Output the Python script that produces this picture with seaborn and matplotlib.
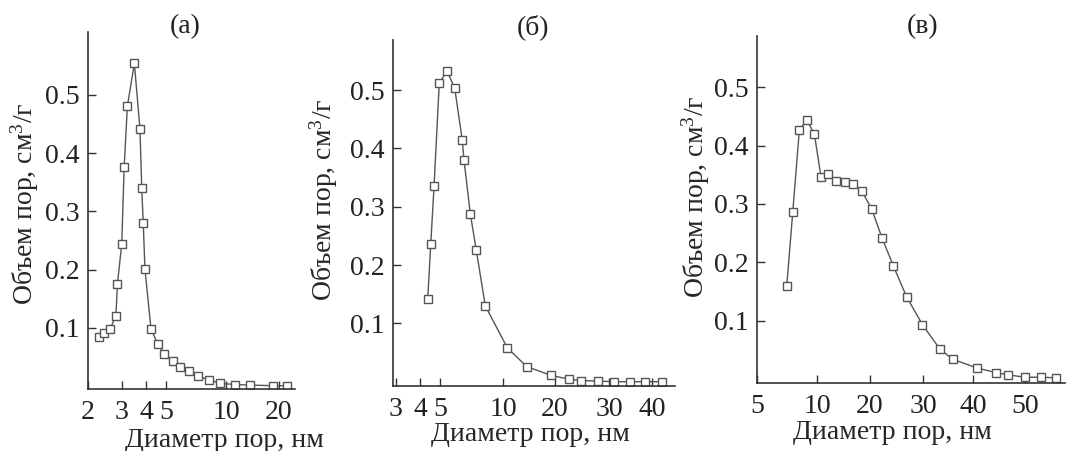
import numpy as np
import matplotlib
matplotlib.use("Agg")
import matplotlib.pyplot as plt
import seaborn as sns

# pore size distributions (diameter in nm, volume in cm3/g)
d_a = [2.28, 2.43, 2.60, 2.79, 2.84, 2.99, 3.08, 3.20, 3.48, 3.72, 3.80, 3.87, 3.95,
       4.23, 4.56, 4.91, 5.40, 5.90, 6.50, 7.26, 8.22, 9.36, 11.25, 13.7, 18.4, 22.1]
v_a = [0.084, 0.092, 0.098, 0.121, 0.175, 0.244, 0.377, 0.481, 0.554, 0.442, 0.341, 0.280, 0.201,
       0.098, 0.073, 0.055, 0.044, 0.033, 0.026, 0.017, 0.011, 0.005, 0.003, 0.002, 0.001, 0.001]

d_b = [4.36, 4.51, 4.68, 4.96, 5.40, 5.88, 6.39, 6.51, 6.98, 7.45, 8.23, 10.6, 13.7,
       18.9, 22.3, 24.3, 27.7, 31.0, 34.5, 38.2, 42.7]
v_b = [0.142, 0.236, 0.336, 0.512, 0.533, 0.503, 0.414, 0.380, 0.288, 0.226, 0.130, 0.058, 0.026,
       0.011, 0.004, 0.002, 0.001, 0.0, 0.0, 0.0, 0.0]

d_c = [7.48, 7.98, 8.53, 9.14, 9.78, 10.75, 12.0, 13.6, 15.2, 16.7, 18.4, 20.3, 22.3,
       24.4, 26.9, 29.9, 33.4, 35.9, 40.7, 44.4, 46.8, 50.0, 53.1, 55.9]
v_c = [0.160, 0.286, 0.427, 0.444, 0.420, 0.347, 0.351, 0.339, 0.337, 0.334, 0.323, 0.292, 0.241,
       0.194, 0.141, 0.093, 0.051, 0.034, 0.019, 0.011, 0.007, 0.003, 0.003, 0.002]

titles = ["(а)", "(б)", "(в)"]
xticks_a = [2, 3, 4, 5, 10, 20]
xticks_b = [3, 4, 5, 10, 20, 30, 40]
xticks_c = [5, 10, 20, 30, 40, 50]
yticks = [0.1, 0.2, 0.3, 0.4, 0.5]

XLABEL = "Диаметр пор, нм"
YLABEL = "Объем пор, см$^3$/г"

W, H = 1066, 451

sns.set_style("ticks")
plt.rcParams["font.family"] = ["Liberation Serif", "DejaVu Serif"]
plt.rcParams["mathtext.fontset"] = "custom"
plt.rcParams["mathtext.rm"] = "Liberation Serif"
plt.rcParams["mathtext.it"] = "Liberation Serif:italic"
plt.rcParams["font.size"] = 20
plt.rcParams["text.color"] = "#222222"


def axis_mapping(ticks, pos, log=True):
    # the drawn axis is not a plain log/linear one: interpolate between its ticks
    t = np.log10(ticks) if log else np.asarray(ticks, float)
    p = np.asarray(pos, float)

    def fwd(x):
        x = np.asarray(x, float)
        u = np.log10(np.clip(x, 1e-6, None)) if log else x
        y = np.interp(u, t, p)
        y = np.where(u < t[0], p[0] + (u - t[0]) * (p[1] - p[0]) / (t[1] - t[0]), y)
        y = np.where(u > t[-1], p[-1] + (u - t[-1]) * (p[-1] - p[-2]) / (t[-1] - t[-2]), y)
        return y

    def inv(y):
        y = np.asarray(y, float)
        u = np.interp(y, p, t)
        u = np.where(y < p[0], t[0] + (y - p[0]) * (t[1] - t[0]) / (p[1] - p[0]), u)
        u = np.where(y > p[-1], t[-1] + (y - p[-1]) * (t[-1] - t[-2]) / (p[-1] - p[-2]), u)
        return 10 ** u if log else u

    return fwd, inv


panels = [
    dict(d=d_a, v=v_a, ticks=xticks_a, pos=[88, 122, 146, 166, 226, 279], log=True,
         box=(88, 32, 295, 389), ylim=(-0.0047, 0.608),
         title_xy=(0.469, 1.014), ylab_xy=(-0.304, 0.52), xlab_xy=(0.657, -0.143)),
    dict(d=d_b, v=v_b, ticks=xticks_b, pos=[396, 420, 440, 503, 555, 609, 652], log=True,
         box=(393, 40, 675, 386), ylim=(-0.0074, 0.586),
         title_xy=(0.496, 1.038), ylab_xy=(-0.245, 0.538), xlab_xy=(0.486, -0.139)),
    dict(d=d_c, v=v_c, ticks=xticks_c, pos=[757, 817, 870, 923, 973, 1025], log=False,
         box=(757, 36, 1065, 383), ylim=(-0.0069, 0.588),
         title_xy=(0.536, 1.026), ylab_xy=(-0.198, 0.536), xlab_xy=(0.44, -0.144)),
]

fig = plt.figure(figsize=(W / 100, H / 100), dpi=100)
fig.patch.set_facecolor("white")

for p, title in zip(panels, titles):
    l, t, r, b = p["box"]
    ax = fig.add_axes([l / W, 1 - b / H, (r - l) / W, (b - t) / H])
    fwd, inv = axis_mapping(p["ticks"], p["pos"], p["log"])
    ax.set_xscale("function", functions=(fwd, inv))

    sns.lineplot(x=p["d"], y=p["v"], ax=ax, estimator=None, sort=False,
                 color="#555555", linewidth=1.0, marker="s", markersize=6,
                 markerfacecolor="white", markeredgecolor="#555555", markeredgewidth=1.0)

    ax.set_xlim(float(inv(l)), float(inv(r)))
    ax.set_ylim(*p["ylim"])
    ax.set_xticks(p["ticks"])
    ax.set_xticklabels([str(v) for v in p["ticks"]])
    ax.xaxis.set_minor_locator(matplotlib.ticker.NullLocator())
    ax.set_yticks(yticks)
    ax.set_yticklabels([f"{v:.1f}" for v in yticks])

    ax.tick_params(direction="in", length=6, width=1.0, color="#333333",
                   labelsize=20, labelcolor="#222222")
    ax.tick_params(axis="x", pad=8)
    ax.tick_params(axis="y", pad=6)
    for side in ("top", "right"):
        ax.spines[side].set_visible(False)
    for side in ("left", "bottom"):
        ax.spines[side].set_color("#333333")
        ax.spines[side].set_linewidth(1.2)

    ax.set_xlabel(XLABEL, fontsize=20, va="center")
    ax.xaxis.set_label_coords(*p["xlab_xy"])
    ax.set_ylabel(YLABEL, fontsize=20, va="center")
    ax.yaxis.set_label_coords(*p["ylab_xy"])
    ax.text(*p["title_xy"], title, transform=ax.transAxes, ha="center", va="center", fontsize=20)

fig.savefig("out.png", dpi=100)
